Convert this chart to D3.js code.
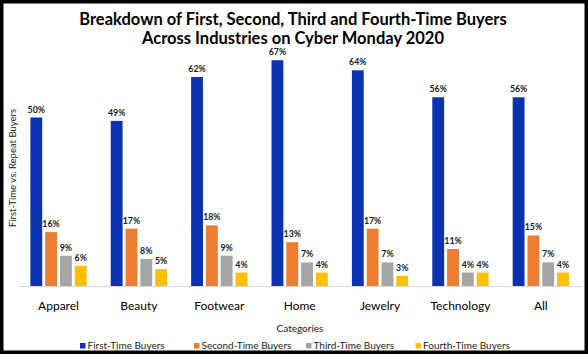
<!DOCTYPE html>
<html>
<head>
<meta charset="utf-8">
<script src="https://cdn.jsdelivr.net/npm/d3@7"></script>
<style>
  html, body { margin: 0; padding: 0; background: #fff; }
  svg { display: block; font-family: Lato, "Open Sans", sans-serif; }
</style>
</head>
<body>
<svg id="chart" width="588" height="354"></svg>
<script>
const categories = ["Apparel", "Beauty", "Footwear", "Home", "Jewelry", "Technology", "All"];
const seriesNames = ["First-Time Buyers", "Second-Time Buyers", "Third-Time Buyers", "Fourth-Time Buyers"];
const firstTime  = [0.50, 0.49, 0.62, 0.67, 0.64, 0.56, 0.56];
const secondTime = [0.16, 0.17, 0.18, 0.13, 0.17, 0.11, 0.15];
const thirdTime  = [0.09, 0.08, 0.09, 0.07, 0.07, 0.04, 0.07];
const fourthTime = [0.06, 0.05, 0.04, 0.04, 0.03, 0.04, 0.04];
const seriesColors = ["#0b33b1", "#ed7d31", "#a5a5a5", "#ffc000"];

const svg = d3.select("#chart");
const width = 588, height = 354;

// frame
svg.append("rect")
    .attr("x", 1.75).attr("y", 1.75)
    .attr("width", width - 3.5).attr("height", height - 3.5)
    .attr("fill", "#fff")
    .attr("stroke", "#000")
    .attr("stroke-width", 3.5);

const allSeries = [firstTime, secondTime, thirdTime, fourthTime];
const data = categories.map((c, i) => ({
    category: c,
    values: seriesNames.map((s, j) => ({ series: s, idx: j, value: allSeries[j][i] }))
}));

const plotLeft = 18.3, plotRight = 581, baseY = 286;

const x0 = d3.scaleBand()
    .domain(categories)
    .range([plotLeft, plotRight])
    .paddingInner(0.3)
    .paddingOuter(0.15);

const x1 = d3.scaleBand()
    .domain(seriesNames)
    .range([0, x0.bandwidth()])
    .paddingInner(0.2);

const y = d3.scaleLinear()
    .domain([0, 0.8])
    .range([baseY, baseY - 0.8 * 337]);

// title
const title = svg.append("text")
    .attr("text-anchor", "middle")
    .attr("font-size", 16.5)
    .attr("font-weight", "bold")
    .attr("fill", "#000");
title.append("tspan").attr("x", 293).attr("y", 24.5)
    .text("Breakdown of First, Second, Third and Fourth-Time Buyers");
title.append("tspan").attr("x", 293).attr("y", 43.5)
    .text("Across Industries on Cyber Monday 2020");

// bars
const groups = svg.selectAll(".group")
    .data(data)
    .enter().append("g")
    .attr("class", "group")
    .attr("transform", d => `translate(${x0(d.category)},0)`);

groups.selectAll("rect")
    .data(d => d.values)
    .enter().append("rect")
    .attr("x", d => x1(d.series))
    .attr("y", d => y(d.value))
    .attr("width", x1.bandwidth())
    .attr("height", d => baseY - y(d.value))
    .attr("fill", d => seriesColors[d.idx]);

groups.selectAll(".lbl")
    .data(d => d.values)
    .enter().append("text")
    .attr("class", "lbl")
    .attr("x", d => x1(d.series) + x1.bandwidth() / 2)
    .attr("y", d => y(d.value) - 5)
    .attr("text-anchor", "middle")
    .attr("font-size", 8.8)
    .attr("font-weight", "bold")
    .attr("fill", "#1a1a1a")
    .text(d => d3.format(".0%")(d.value));

// x axis
const xAxis = svg.append("g")
    .attr("transform", `translate(0,${baseY})`)
    .call(d3.axisBottom(x0).tickSize(0).tickPadding(15));
xAxis.select(".domain").attr("stroke", "#d9d9d9").attr("stroke-width", 1);
xAxis.selectAll("text")
    .attr("font-family", "Lato, sans-serif")
    .attr("font-size", 12)
    .attr("fill", "#000");

// axis titles
svg.append("text")
    .attr("x", 300)
    .attr("y", 332)
    .attr("text-anchor", "middle")
    .attr("font-size", 10)
    .attr("fill", "#222")
    .text("Categories");

svg.append("text")
    .attr("transform", "translate(16,168) rotate(-90)")
    .attr("text-anchor", "middle")
    .attr("font-size", 9.5)
    .attr("fill", "#222")
    .text("First-Time vs. Repeat Buyers");

// legend
const legendX = [80, 194, 306, 415.5];
const legend = svg.selectAll(".legend")
    .data(seriesNames)
    .enter().append("g")
    .attr("class", "legend")
    .attr("transform", (d, i) => `translate(${legendX[i]},343)`);
legend.append("rect")
    .attr("width", 5.5).attr("height", 5.5)
    .attr("fill", (d, i) => seriesColors[i]);
legend.append("text")
    .attr("x", 7.5)
    .attr("y", 6)
    .attr("font-size", 10)
    .attr("fill", "#222")
    .text(d => d);
</script>
</body>
</html>
